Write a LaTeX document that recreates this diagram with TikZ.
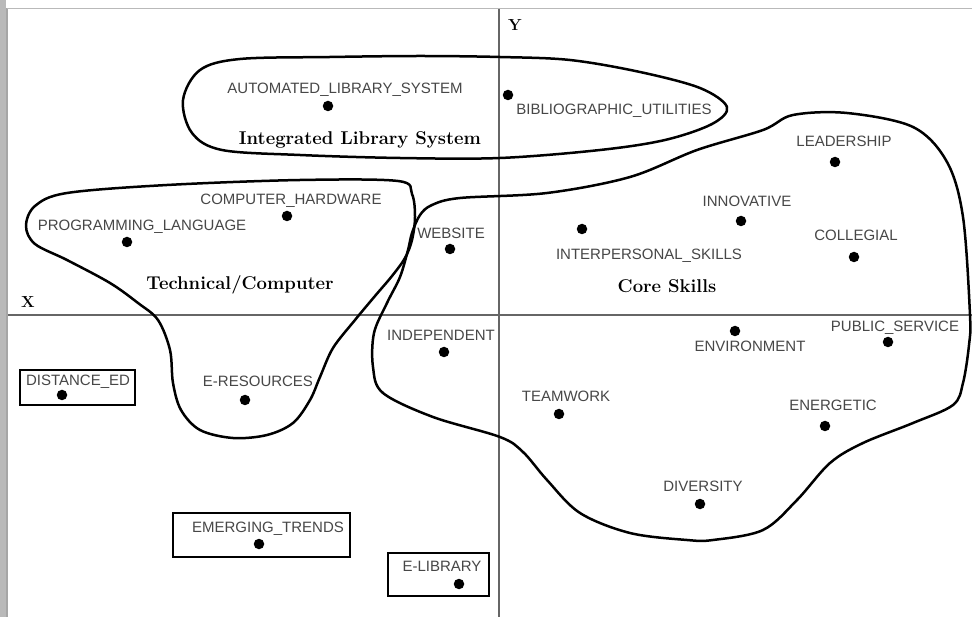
\documentclass[tikz,border=0pt]{standalone}
\usepackage{fontspec}
\setsansfont{Liberation Sans}
\begin{document}
\begin{tikzpicture}[x=1pt,y=-1pt,
  lab/.style={font=\sffamily\fontsize{15}{17}\selectfont, text=black!72, inner sep=0pt, anchor=base},
  grp/.style={font=\bfseries\fontsize{18.5}{21}\selectfont, inner sep=0pt, anchor=base},
  axlab/.style={font=\bfseries\fontsize{16}{18}\selectfont, inner sep=0pt, anchor=base},
  dot/.style={circle, fill=black, inner sep=0pt, minimum size=10.5pt},
  blob/.style={line width=2.5pt, line join=round},
  boxed/.style={draw=black, line width=2pt, fill=none}]
\useasboundingbox (0,0) rectangle (972,617);
% frame
\fill[white] (0,0) rectangle (972,617);
\fill[gray!55] (0,0) rectangle (6,617);
\draw[gray!70, line width=1.6pt] (7,8.5) -- (7,617);
\draw[gray!55, line width=1.6pt] (7,8.5) -- (972,8.5);
% axes
\draw[gray!80!black, line width=1.1pt] (8,315) -- (972,315);
\draw[gray!80!black, line width=1.1pt] (499,9) -- (499,617);
\node[axlab] (xl) at (28,308) {X};
\node[axlab] (yl) at (515,31) {Y};
% boxes
\draw[boxed] (20,370) rectangle (135,405);
\draw[boxed] (173,513) rectangle (350,557);
\draw[boxed] (388,553) rectangle (489,596);
% blobs
\draw[blob] plot[smooth cycle, tension=0.55] coordinates {
 (183,100) (200,70) (240,59) (330,57) (420,56) (500,57) (570,60) (640,72) (700,88) (727,107)
 (712,124) (665,140) (600,150) (500,158) (400,158) (300,155) (222,150) (192,133)};
\draw[blob] plot[smooth cycle, tension=0.55] coordinates {
 (26,226) (35,206) (67,193) (167,185) (300,180) (398,181) (412,194) (415,217) (412,240)
 (405,258) (392,276) (375,296) (355,320) (333,348) (320,377) (310,400) (293,423) (267,435)
 (233,438) (200,430) (181,410) (173,383) (170,350) (158,320) (138,303) (110,283) (67,260) (35,244)};
\draw[blob] plot[smooth cycle, tension=0.55] coordinates {
 (460,198) (547,193) (630,177) (697,150) (763,130) (793,115) (847,113) (913,127) (947,162)
 (963,217) (970,315) (969,345) (963,383) (953,405) (913,423) (863,443) (830,463) (797,500)
 (763,530) (713,540) (687,540) (630,533) (580,513) (547,480) (523,452) (500,437) (433,417)
 (383,393) (373,367) (374,333) (387,303) (400,277) (408,250) (412,233) (420,215) (432,205)};
% group labels
\node[grp] (ils) at (360,145) {Integrated Library System};
\node[grp] (tc) at (240,290) {Technical/Computer};
\node[grp] (cs) at (667,293) {Core Skills};
% points
\node[dot] (als) at (328,106) {};
\node[lab] (alsl) at (345,94) {AUTOMATED\_LIBRARY\_SYSTEM};
\node[dot] (bu) at (508,95) {};
\node[lab] (bul) at (614,115) {BIBLIOGRAPHIC\_UTILITIES};
\node[dot] (ch) at (287,216) {};
\node[lab] (chl) at (291,205) {COMPUTER\_HARDWARE};
\node[dot] (pl) at (127,242) {};
\node[lab] (pll) at (142,231) {PROGRAMMING\_LANGUAGE};
\node[dot] (ws) at (450,249) {};
\node[lab] (wsl) at (451,239) {WEBSITE};
\node[dot] (ld) at (835,162) {};
\node[lab] (ldl) at (844,147) {LEADERSHIP};
\node[dot] (inn) at (741,221) {};
\node[lab] (innl) at (747,207) {INNOVATIVE};
\node[dot] (ips) at (582,229) {};
\node[lab] (ipsl) at (649,260) {INTERPERSONAL\_SKILLS};
\node[dot] (col) at (854,257) {};
\node[lab] (coll) at (856,241) {COLLEGIAL};
\node[dot] (ind) at (444,352) {};
\node[lab] (indl) at (441,341) {INDEPENDENT};
\node[dot] (env) at (735,331) {};
\node[lab] (envl) at (750,352) {ENVIRONMENT};
\node[dot] (ps) at (888,342) {};
\node[lab] (psl) at (895,332) {PUBLIC\_SERVICE};
\node[dot] (de) at (62,395) {};
\node[lab] (del) at (78,386) {DISTANCE\_ED};
\node[dot] (er) at (245,400) {};
\node[lab] (erl) at (258,387) {E-RESOURCES};
\node[dot] (tw) at (559,414) {};
\node[lab] (twl) at (566,402) {TEAMWORK};
\node[dot] (en) at (825,426) {};
\node[lab] (enl) at (833,411) {ENERGETIC};
\node[dot] (dv) at (700,504) {};
\node[lab] (dvl) at (703,491) {DIVERSITY};
\node[dot] (et) at (259,544) {};
\node[lab] (etl) at (268,532) {EMERGING\_TRENDS};
\node[dot] (el) at (459,584) {};
\node[lab] (ell) at (442,571) {E-LIBRARY};
\end{tikzpicture}
\end{document}
